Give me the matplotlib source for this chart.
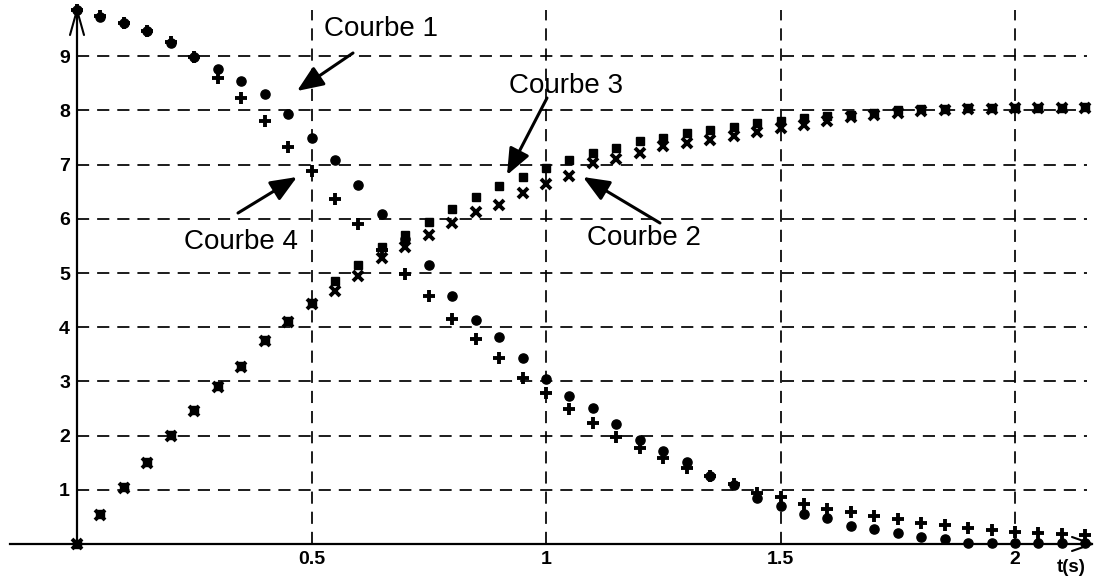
import matplotlib
matplotlib.use("Agg")
import matplotlib.pyplot as plt

plt.rcParams['font.family'] = ['Liberation Sans', 'DejaVu Sans']

# ---- data ----
t = [0.00, 0.05, 0.10, 0.15, 0.20, 0.25, 0.30, 0.35, 0.40, 0.45,
     0.50, 0.55, 0.60, 0.65, 0.70, 0.75, 0.80, 0.85, 0.90, 0.95,
     1.00, 1.05, 1.10, 1.15, 1.20, 1.25, 1.30, 1.35, 1.40, 1.45,
     1.50, 1.55, 1.60, 1.65, 1.70, 1.75, 1.80, 1.85, 1.90, 1.95,
     2.00, 2.05, 2.10, 2.15]

courbe1 = [9.85, 9.72, 9.61, 9.46, 9.25, 8.98, 8.77, 8.55, 8.30, 7.94,
           7.49, 7.08, 6.63, 6.08, 5.62, 5.14, 4.58, 4.13, 3.82, 3.44,
           3.04, 2.73, 2.51, 2.21, 1.91, 1.72, 1.52, 1.26, 1.08, 0.85,
           0.71, 0.55, 0.48, 0.34, 0.28, 0.21, 0.13, 0.10, 0.02, 0.02,
           0.02, 0.02, 0.02, 0.02]

courbe4 = [9.85, 9.74, 9.62, 9.47, 9.26, 8.98, 8.60, 8.22, 7.80, 7.32,
           6.88, 6.37, 5.91, 5.42, 4.99, 4.57, 4.15, 3.78, 3.43, 3.07,
           2.78, 2.49, 2.23, 1.98, 1.77, 1.58, 1.40, 1.26, 1.10, 0.95,
           0.86, 0.74, 0.65, 0.59, 0.52, 0.46, 0.39, 0.35, 0.30, 0.26,
           0.23, 0.21, 0.19, 0.16]

courbe3 = [0.00, 0.56, 1.06, 1.52, 2.01, 2.47, 2.91, 3.28, 3.77, 4.12,
           4.45, 4.85, 5.15, 5.48, 5.71, 5.95, 6.19, 6.41, 6.60, 6.77,
           6.93, 7.08, 7.22, 7.31, 7.43, 7.50, 7.58, 7.64, 7.70, 7.76,
           7.80, 7.86, 7.89, 7.92, 7.95, 8.00, 8.02, 8.03, 8.04, 8.04,
           8.05, 8.05, 8.05, 8.06]

courbe2 = [0.00, 0.54, 1.04, 1.50, 1.99, 2.45, 2.89, 3.26, 3.75, 4.10,
           4.43, 4.67, 4.94, 5.28, 5.48, 5.70, 5.92, 6.12, 6.25, 6.48,
           6.65, 6.79, 7.03, 7.11, 7.22, 7.34, 7.40, 7.46, 7.52, 7.61,
           7.67, 7.73, 7.81, 7.88, 7.91, 7.95, 7.98, 8.01, 8.02, 8.03,
           8.04, 8.04, 8.05, 8.05]

xticks = [0.5, 1, 1.5, 2]
xticklabels = ['0.5', '1', '1.5', '2']
yticks = [1, 2, 3, 4, 5, 6, 7, 8, 9]
yticklabels = ['1', '2', '3', '4', '5', '6', '7', '8', '9']

# ---- figure ----
W, H = 1094, 578
fig = plt.figure(figsize=(W / 100, H / 100), dpi=100)
ax = fig.add_axes([0, 0, 1, 1])
X0, SX = 77, 469.0      # pixel of t=0, pixels per second
Y0, SY = 544, 54.2      # pixel of y=0 (from top), pixels per unit
ax.set_xlim(-X0 / SX, (W - X0) / SX)
ax.set_ylim(-(H - Y0) / SY, Y0 / SY)

# grid (dashed), limited like the original
grid_style = dict(color='black', lw=1.25, linestyle=(0, (7.0, 4.6)), zorder=1)
ax.hlines(yticks, 0, (1087 - X0) / SX, **grid_style)
ax.vlines(xticks, 0, (Y0 - 10) / SY, **grid_style)

# axes as spines through zero
for s in ['top', 'right']:
    ax.spines[s].set_visible(False)
ax.spines['left'].set_position(('data', 0))
ax.spines['bottom'].set_position(('data', 0))
ax.spines['left'].set_bounds(0, (Y0 - 10) / SY)
ax.spines['bottom'].set_bounds((10 - X0) / SX, (1092 - X0) / SX)
for s in ['left', 'bottom']:
    ax.spines[s].set_linewidth(1.6)
    ax.spines[s].set_zorder(2)

ax.set_xticks(xticks)
ax.set_xticklabels(xticklabels, fontsize=14, fontweight='bold')
ax.set_yticks(yticks)
ax.set_yticklabels(yticklabels, fontsize=14, fontweight='bold')
ax.tick_params(axis='both', length=0)
ax.tick_params(axis='x', pad=5)
ax.tick_params(axis='y', pad=5)

# open arrow heads on the axes
ytip = (Y0 - 10) / SY
ax.plot([-7 / SX, 0, 7 / SX], [ytip - 25 / SY, ytip, ytip - 25 / SY],
        color='black', lw=1.5, solid_capstyle='round', zorder=2)
xtip = (1092 - X0) / SX
ax.plot([xtip - 20 / SX, xtip, xtip - 20 / SX], [7 / SY, 0, -7 / SY],
        color='black', lw=1.5, solid_capstyle='round', zorder=2)

ax.text(1071, H - 568, 't(s)', transform=None, fontsize=13.5,
        fontweight='bold', ha='center', va='center')

# data markers
ax.plot(t, courbe1, linestyle='none', marker='o', ms=6.6, color='black',
        mfc='black', zorder=3)
ax.plot(t, courbe4, linestyle='none', marker='+', ms=8.5, mew=2.8,
        color='black', zorder=3)
ax.plot(t, courbe3, linestyle='none', marker='s', ms=6.0, color='black',
        zorder=3)
ax.plot(t, courbe2, linestyle='none', marker='x', ms=7, mew=2.8,
        color='black', zorder=3)

# annotations (pixel positions of the labels and arrows)
labels = [('Courbe 1', (381, 29), (353, 53), (297, 91)),
          ('Courbe 4', (241, 242), (238, 213), (297, 177)),
          ('Courbe 3', (566, 86), (547, 98), (507, 175)),
          ('Courbe 2', (644, 238), (660, 223), (583, 177))]
for txt, (tx, ty), (sx, sy), (ex, ey) in labels:
    ax.text(tx, H - ty, txt, transform=None, fontsize=20,
            ha='center', va='center', zorder=5)
    ax.annotate('', xy=(ex, H - ey), xycoords='figure pixels',
                xytext=(sx, H - sy), textcoords='figure pixels',
                arrowprops=dict(arrowstyle='-|>,head_length=0.8,head_width=0.33',
                                mutation_scale=20, lw=2.2, color='black',
                                shrinkA=0, shrinkB=0), zorder=5)

fig.savefig('out.png', dpi=100, facecolor='white')
